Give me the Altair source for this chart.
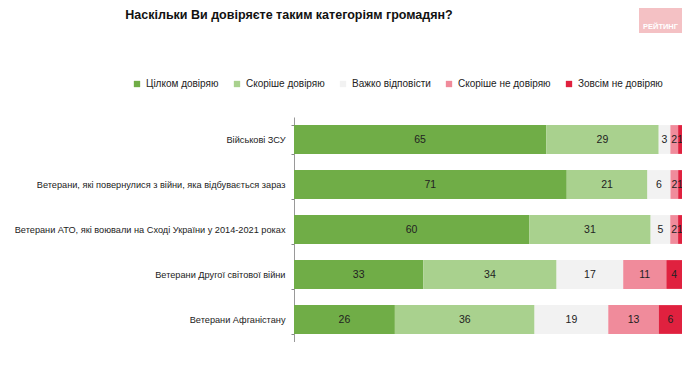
import altair as alt
import pandas as pd

categories = [
    "Військові ЗСУ",
    "Ветерани, які повернулися з війни, яка відбувається зараз",
    "Ветерани АТО, які воювали на Сході України у 2014-2021 роках",
    "Ветерани Другої світової війни",
    "Ветерани Афганістану",
]
answers = ["Цілком довіряю", "Скоріше довіряю", "Важко відповісти", "Скоріше не довіряю", "Зовсім не довіряю"]
full_trust = [65, 71, 60, 33, 26]
rather_trust = [29, 21, 31, 34, 36]
hard_to_say = [3, 6, 5, 17, 19]
rather_distrust = [2, 2, 2, 11, 13]
full_distrust = [1, 1, 1, 4, 6]
colors = ["#70ad47", "#a9d18e", "#f2f2f2", "#f08b9b", "#e0213f"]
watermark = ["РЕЙТИНГ"]

series = [full_trust, rather_trust, hard_to_say, rather_distrust, full_distrust]
rows = []
for ai, (ans, vals) in enumerate(zip(answers, series)):
    for cat, v in zip(categories, vals):
        rows.append({"cat": cat, "answer": ans, "value": v, "order": ai})
df = pd.DataFrame(rows)

FONT = "Liberation Sans Narrow, Arial Narrow, Liberation Sans, Arial, sans-serif"

y_enc = alt.Y("cat:N", sort=categories, title=None,
              scale=alt.Scale(paddingInner=0.36, paddingOuter=0.18),
              axis=alt.Axis(labelFont=FONT, labelFontSize=9.2, labelColor="#222222",
                            labelPadding=6, tickBand="extent", tickSize=3,
                            tickColor="#888888", domainColor="#999999",
                            labelLimit=400))

bars = alt.Chart(df).mark_bar().encode(
    x=alt.X("value:Q", stack="normalize", axis=None,
            scale=alt.Scale(domain=[0, 1], nice=False)),
    y=y_enc,
    color=alt.Color("answer:N", sort=answers,
                    scale=alt.Scale(domain=answers, range=colors),
                    legend=alt.Legend(title=None, orient="none", direction="horizontal",
                                      legendX=-162, legendY=-38,
                                      labelFont=FONT, labelFontSize=10, labelColor="#222222",
                                      symbolType="square", symbolSize=40, symbolStrokeWidth=0,
                                      columnPadding=13, labelOffset=4)),
    order=alt.Order("order:Q"),
)

labels = alt.Chart(df).mark_text(font=FONT, fontSize=10.5, color="#222222").encode(
    x=alt.X("value:Q", stack="normalize", bandPosition=0.5),
    y=alt.Y("cat:N", sort=categories),
    text=alt.Text("value:Q"),
    order=alt.Order("order:Q"),
    detail="answer:N",
)

wm_df = pd.DataFrame({"t": watermark})
wm_box = alt.Chart(wm_df).mark_rect(color="#f4c1c4").encode(
    x=alt.value(345), x2=alt.value(388), y=alt.value(-109), y2=alt.value(-84))
wm_text = alt.Chart(wm_df).mark_text(font="Liberation Sans, Arial", fontSize=7.5, fontWeight="bold",
                                     color="#ffffff").encode(
    x=alt.value(366.5), y=alt.value(-90), text="t:N")

chart = alt.layer(bars, labels, wm_box, wm_text).properties(
    width=388, height=225,
    autosize=alt.AutoSizeParams(type="none"),
    padding={"left": 286, "top": 109, "right": 0, "bottom": 0},
    title=alt.TitleParams("Наскільки Ви довіряєте таким категоріям громадян?",
                          font=FONT, fontSize=12.5, fontWeight="bold", color="#111111",
                          anchor="middle", frame="group", dx=-199, offset=-13),
).configure_view(stroke=None)

chart.save("out.html", embed_options={"renderer": "svg", "actions": False})
